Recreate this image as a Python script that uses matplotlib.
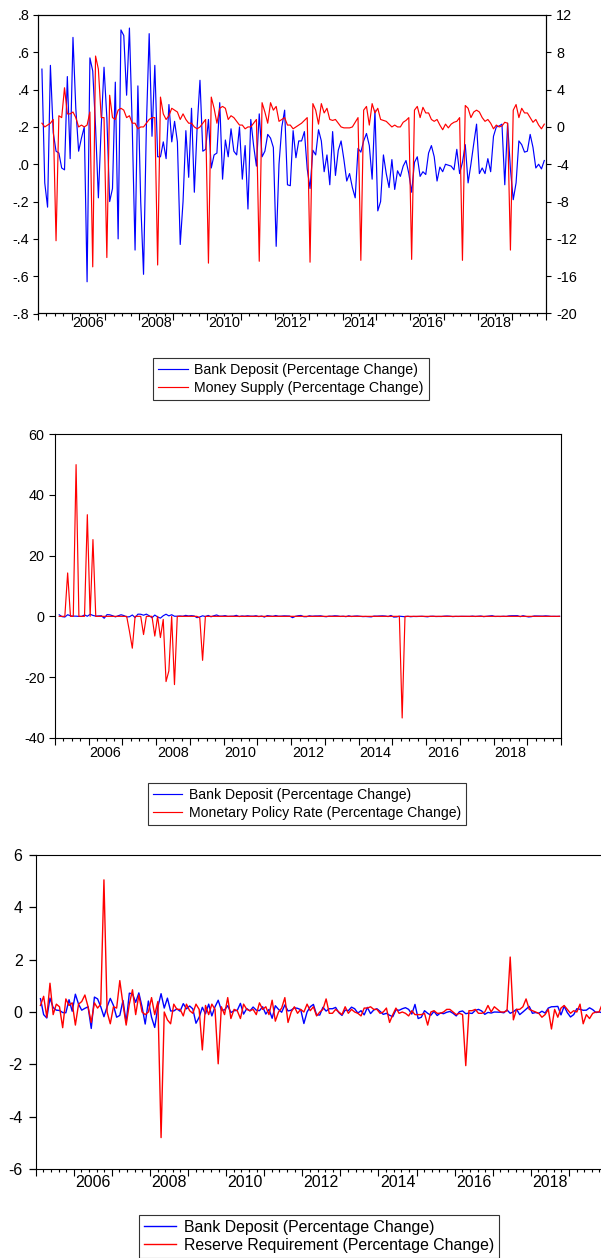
import numpy as np
import pandas as pd
import matplotlib
matplotlib.use("Agg")
import matplotlib.pyplot as plt
from matplotlib.ticker import MultipleLocator

plt.rcParams['font.family'] = ['Liberation Sans', 'DejaVu Sans']
plt.rcParams['axes.unicode_minus'] = False

# monthly observations, 2005M02 - 2019M12
months = pd.date_range('2005-02-01', '2019-12-01', freq='MS')

# Bank deposit, percentage change
deposit = [
    0.51, -0.10, -0.23, 0.53, 0.17, 0.07, 0.06, -0.02, -0.03, 0.47, 0.03,
    0.68, 0.30, 0.07, 0.14, 0.20, -0.63, 0.57, 0.50, 0.20, -0.18, 0.20, 0.52,
    0.25, -0.20, -0.13, 0.44, -0.40, 0.72, 0.69, 0.37, 0.73, 0.20, -0.46, 0.42,
    -0.20, -0.59, 0.20, 0.70, 0.15, 0.53, 0.04, 0.04, 0.12, 0.03, 0.32, 0.12,
    0.23, 0.12, -0.43, -0.20, 0.18, -0.07, 0.30, -0.15, 0.20, 0.45, 0.07, 0.08,
    0.24, -0.02, 0.05, 0.06, 0.33, -0.08, 0.13, 0.04, 0.19, 0.07, 0.05, 0.20,
    -0.08, 0.10, -0.24, 0.24, 0.10, -0.01, 0.27, 0.04, 0.07, 0.16, 0.14, 0.09,
    -0.44, 0.00, 0.20, 0.29, -0.11, -0.115, 0.18, 0.035, 0.125, 0.125, 0.175, -0.025,
    -0.13, 0.075, 0.05, 0.185, 0.125, -0.04, 0.05, -0.11, 0.175, -0.06, 0.075, 0.125,
    0.025, -0.09, -0.05, -0.125, -0.18, 0.085, 0.065, 0.125, 0.165, 0.10, -0.08, 0.29,
    -0.25, -0.20, 0.05, -0.05, -0.125, 0.025, -0.135, -0.035, -0.065, -0.01, 0.02, -0.05,
    -0.15, 0.01, 0.04, -0.065, -0.04, -0.055, 0.06, 0.10, 0.04, -0.09, -0.015, -0.04,
    0.00, -0.005, -0.01, -0.03, 0.08, -0.05, 0.01, 0.105, -0.10, 0.00, 0.11, 0.215,
    -0.05, -0.02, -0.05, 0.03, -0.04, 0.15, 0.20, 0.205, 0.215, -0.11, 0.22, -0.025,
    -0.19, -0.10, 0.125, 0.105, 0.065, 0.07, 0.16, 0.09, -0.02, 0.00, -0.025, 0.02,
]

# Money supply, percentage change (right axis of top panel)
money_supply = [
    0.4, 0.0, 0.2, 0.4, 0.8, -12.2, 1.2, 1.0, 4.2, 1.4, 1.4,
    1.6, 1.0, 0.0, 0.2, 0.0, 0.2, 1.6, -15.0, 7.6, 6.2, 1.0, 1.0,
    -14.0, 3.4, 1.0, 0.8, 1.8, 2.0, 1.8, 1.0, 1.2, 0.4, 0.4, -0.2,
    0.0, 0.0, 0.4, 0.8, 1.0, 1.0, -14.8, 3.2, 1.4, 0.8, 1.2, 2.0,
    1.8, 1.6, 0.8, 1.4, 0.8, 0.4, 0.4, 0.0, -0.2, 0.0, 0.4, 0.8,
    -14.6, 3.2, 2.0, 0.4, 2.0, 2.2, 2.0, 0.8, 1.2, 1.0, 0.6, 0.2,
    0.2, -0.2, 0.0, 0.0, 0.4, 0.8, -14.4, 2.6, 1.6, 0.4, 2.6, 1.8,
    2.2, 0.6, 0.8, 1.0, 0.2, 0.2, -0.2, 0.0, 0.2, 0.4, 0.7, 1.0,
    -14.5, 2.5, 1.8, 0.3, 2.5, 1.5, 2.0, 0.8, 0.7, 0.8, 0.4, 0.0,
    -0.1, -0.1, -0.1, 0.0, 0.5, 1.0, -14.3, 1.8, 2.2, 0.2, 2.5, 1.5,
    2.0, 0.8, 0.7, 0.6, 0.3, 0.0, 0.2, 0.0, 0.0, 0.5, 0.7, 1.0,
    -14.2, 1.8, 2.2, 1.0, 2.1, 1.5, 1.5, 0.8, 0.6, 0.8, 0.2, -0.3,
    0.3, -0.1, 0.3, 0.5, 0.6, 1.0, -14.3, 2.3, 2.0, 1.0, 1.6, 1.8,
    1.6, 1.0, 0.6, 0.8, 0.4, -0.2, 0.2, 0.0, 0.1, 0.5, 0.4, -13.2,
    1.8, 2.4, 1.0, 2.0, 1.5, 1.5, 1.0, 0.5, 0.8, 0.2, -0.2, 0.3,
]

# Monetary policy rate, percentage change
policy_rate = [
    0, 0, 0, 14.3, 0, 0, 50.0, 0, 0, 0, 33.5,
    0, 25.3, 0, 0, 0, 0, 0, 0, 0, 0, 0, 0,
    0, 0, -5.0, -10.5, 0, 0, 0, -6.0, 0, 0, 0, -6.5,
    0, -7.0, -1.0, -21.5, -18.0, 0, -22.5, 0, 0, 0, 0, 0,
    0, 0, 0, -0.5, -14.5, 0, 0, 0, 0, 0, 0, 0,
    0, 0, 0, 0, 0, 0, 0, 0, 0, 0, 0, 0,
    0, 0, 0, 0, 0, 0, 0, 0, 0, 0, 0, 0,
    0, 0, 0, 0, 0, 0, 0, 0, 0, 0, 0, 0,
    0, 0, 0, 0, 0, 0, 0, 0, 0, 0, 0, 0,
    0, 0, 0, 0, 0, 0, 0, 0, 0, 0, 0, 0,
    0, 0, 0, -33.5, 0, 0, 0, 0, 0, 0, 0, 0,
    0, 0, 0, 0, 0, 0, 0, 0, 0, 0, 0, 0,
    0, 0, 0, 0, 0, 0, 0, 0, 0, 0, 0, 0,
    0, 0, 0, 0, 0, 0, 0, 0, 0, 0, 0, 0,
    0, 0, 0, 0, 0, 0, 0, 0, 0, 0, 0, 0,
]

# Reserve requirement, percentage change
reserve_req = [
    0.25, 0.60, -0.20, 1.10, -0.10, 0.30, 0.20, -0.60, 0.50, 0.25, 0.35,
    -0.50, 0.30, 0.40, 0.65, 0.20, -0.40, 0.35, 0.15, 0.30, 5.05, 0.00, -0.45,
    0.20, 0.15, 1.20, 0.30, -0.50, 0.30, 0.85, -0.10, 0.65, 0.00, -0.10, 0.00,
    0.55, -0.10, 0.40, -4.80, 0.00, -0.30, -0.45, 0.30, 0.10, 0.10, -0.15, 0.30,
    0.05, -0.05, 0.30, 0.10, -1.45, 0.25, -0.10, 0.30, 0.10, -1.98, 0.20, -0.10,
    0.55, -0.25, 0.10, 0.05, -0.25, 0.30, 0.10, 0.05, 0.10, -0.10, 0.35, 0.10,
    0.20, -0.10, 0.45, -0.35, 0.00, 0.15, 0.55, -0.40, 0.00, 0.20, -0.05, 0.10,
    0.00, 0.30, 0.05, 0.20, -0.15, 0.00, 0.10, 0.50, -0.05, -0.05, 0.10, 0.00,
    -0.10, 0.20, -0.05, 0.10, 0.00, -0.05, -0.15, 0.15, 0.15, 0.20, 0.10, 0.10,
    -0.05, 0.00, 0.15, -0.40, -0.10, 0.15, -0.05, 0.00, -0.05, -0.15, 0.05, -0.10,
    -0.10, -0.10, -0.05, -0.50, 0.00, 0.05, -0.05, -0.05, 0.00, 0.10, 0.10, 0.00,
    -0.10, -0.05, -0.10, -2.05, 0.05, 0.05, 0.10, -0.05, -0.05, 0.00, 0.25, 0.00,
    0.20, 0.10, 0.00, 0.00, 0.05, 2.10, -0.30, 0.10, 0.10, 0.20, 0.50, 0.10,
    0.05, 0.00, -0.05, -0.20, -0.10, 0.10, -0.65, 0.10, -0.20, 0.15, 0.25, 0.10,
    -0.05, 0.05, 0.00, 0.30, -0.45, -0.10, -0.25, -0.05, 0.00, 0.00, 0.30, 0.30,
]

dep_label = 'Bank Deposit (Percentage Change)'
ms_label = 'Money Supply (Percentage Change)'
mpr_label = 'Monetary Policy Rate (Percentage Change)'
rr_label = 'Reserve Requirement (Percentage Change)'
year_labels = ['2006', '2008', '2010', '2012', '2014', '2016', '2018']

# decimal year position of each month (mid month)
t = np.asarray(months.year + (months.month - 1) / 12 + 1 / 24, dtype=float)

BLUE = '#0000ff'
RED = '#ff0000'
LW = 0.85
W, H = 601, 1258


def px_axes(fig, left, top, right, bottom):
    return fig.add_axes([left / W, 1 - bottom / H, (right - left) / W, (bottom - top) / H])


def time_axis(ax, nminor, pad, fs):
    ax.set_xlim(2005, 2020)
    ax.xaxis.set_major_locator(MultipleLocator(1))
    ax.xaxis.set_minor_locator(MultipleLocator(1 / nminor))
    ax.tick_params(axis='x', which='major', direction='out', length=4.8, width=0.8,
                   labelbottom=False)
    ax.tick_params(axis='x', which='minor', direction='out', length=2.4, width=0.8)
    # year labels sit in the middle of each even year
    sec = ax.secondary_xaxis('bottom')
    sec.set_xticks([int(y) + 0.5 for y in year_labels], labels=year_labels)
    sec.tick_params(length=0, pad=pad, labelsize=fs)
    sec.spines['bottom'].set_visible(False)
    for s in ax.spines.values():
        s.set_linewidth(0.8)


def add_legend(fig, handles, labels, left, top, fs=10.2, hl=2.1, htp=0.45, bp=0.35, ls=0.25):
    leg = fig.legend(handles, labels, loc='upper left',
                     bbox_to_anchor=(left / W, 1 - top / H), bbox_transform=fig.transFigure,
                     borderaxespad=0, fancybox=False, framealpha=1, edgecolor='#333333',
                     fontsize=fs, handlelength=hl, handletextpad=htp,
                     borderpad=bp, labelspacing=ls)
    leg.get_frame().set_linewidth(0.8)
    return leg


fig = plt.figure(figsize=(W / 100, H / 100), dpi=100)

# ---------------- panel 1: deposit vs money supply ----------------
FS1 = 10.4
ax1 = px_axes(fig, 37.7, 15, 545.7, 313.5)
l_dep1, = ax1.plot(t, deposit, color=BLUE, lw=LW)
ax1.set_ylim(-0.8, 0.8)
yt = [0.8, 0.6, 0.4, 0.2, 0.0, -0.2, -0.4, -0.6, -0.8]
ax1.set_yticks(yt, labels=['.8', '.6', '.4', '.2', '.0', '-.2', '-.4', '-.6', '-.8'])
ax1.tick_params(axis='y', direction='out', length=3.6, width=0.8, pad=2.5, labelsize=FS1)
time_axis(ax1, 4, 1.5, FS1)

ax1r = ax1.twinx()
l_ms, = ax1r.plot(t, money_supply, color=RED, lw=LW)
ax1r.set_ylim(-20, 12)
ax1r.set_yticks(np.arange(-20, 13, 4))
ax1r.tick_params(axis='y', direction='out', length=3.6, width=0.8, pad=4, labelsize=FS1)
for s in ax1r.spines.values():
    s.set_linewidth(0.8)

add_legend(fig, [l_dep1, l_ms], [dep_label, ms_label], 153.3, 358.3)

# ---------------- panel 2: deposit vs policy rate ----------------
ax2 = px_axes(fig, 55, 434.3, 561, 737.7)
l_dep2, = ax2.plot(t, deposit, color=BLUE, lw=LW)
l_mpr, = ax2.plot(t, policy_rate, color=RED, lw=LW)
ax2.set_ylim(-40, 60)
ax2.set_yticks(np.arange(-40, 61, 20))
ax2.tick_params(axis='y', direction='out', length=4, width=0.8, pad=3.5, labelsize=FS1)
time_axis(ax2, 4, 6, FS1)

add_legend(fig, [l_dep2, l_mpr], [dep_label, mpr_label], 148, 783.3, fs=10.1)

# ---------------- panel 3: deposit vs reserve requirement ----------------
FS3 = 11.5
LW3 = 1.0
ax3 = px_axes(fig, 35.7, 855, 607, 1169)
l_dep3, = ax3.plot(t, deposit, color=BLUE, lw=LW3)
l_rr, = ax3.plot(t, reserve_req, color=RED, lw=LW3)
ax3.set_ylim(-6, 6)
ax3.set_yticks(np.arange(-6, 7, 2))
ax3.tick_params(axis='y', direction='out', length=5, width=0.9, pad=4.5, labelsize=FS3)
time_axis(ax3, 5, 4.5, FS3)

add_legend(fig, [l_dep3, l_rr], [dep_label, rr_label], 139.3, 1215,
           fs=11.4, hl=2.0, htp=0.5, bp=0.3, ls=0.2)

fig.savefig('out.png', dpi=100)
